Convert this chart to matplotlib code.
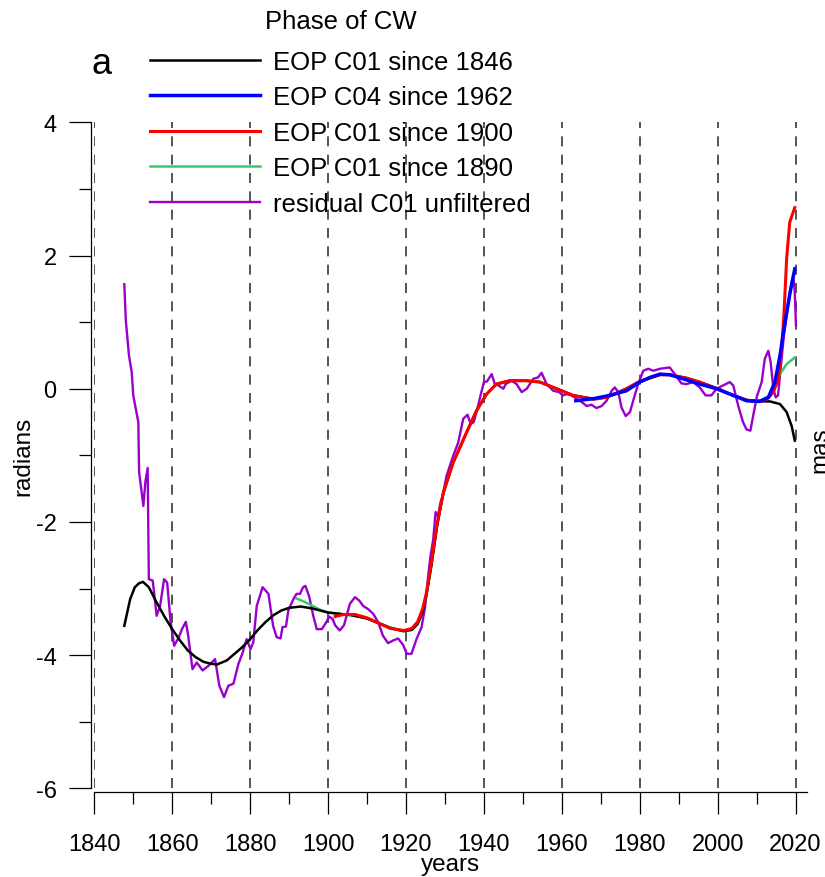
import numpy as np
import matplotlib
matplotlib.use("Agg")
import matplotlib.pyplot as plt
from matplotlib.ticker import MultipleLocator

plt.rcParams['font.family'] = ['Liberation Sans', 'DejaVu Sans']
plt.rcParams['axes.unicode_minus'] = False
plt.rcParams['lines.scale_dashes'] = False

# EOP C01 since 1846 (black)
yr_c01_1846 = [1847.7, 1849.2, 1850.4, 1851.5, 1852.5, 1854.0, 1856.0, 1858.0, 1860.0,
               1862.0, 1864.0, 1866.0, 1868.0, 1870.0, 1871.5, 1874.0, 1876.0, 1878.0,
               1880.0, 1882.0, 1884.0, 1886.0, 1888.0, 1890.0, 1893.0, 1896.0, 1900.0,
               1903.0, 1906.0, 1910.0, 1913.0, 1916.0, 1919.3, 1921.5, 1923.0, 1924.3,
               1925.3, 1926.5, 1928.0, 1929.6, 1932.1, 1935.6, 1938.1, 1940.7, 1943.2,
               1946.6, 1950.9, 1954.4, 1958.7, 1962.9, 1968.0, 1971.5, 1976.6, 1980.0,
               1985.2, 1987.7, 1992.0, 1995.4, 2000.0, 2004.0, 2007.5, 2010.8, 2013.4,
               2016.0, 2017.7, 2019.0, 2019.8]
ph_c01_1846 = [-3.56, -3.16, -2.98, -2.92, -2.90, -2.98, -3.21, -3.42, -3.61,
               -3.78, -3.93, -4.03, -4.10, -4.13, -4.14, -4.08, -3.98, -3.88,
               -3.76, -3.62, -3.50, -3.40, -3.33, -3.29, -3.27, -3.30, -3.36,
               -3.38, -3.40, -3.45, -3.52, -3.59, -3.64, -3.62, -3.53, -3.35,
               -3.08, -2.66, -2.05, -1.56, -1.11, -0.65, -0.33, -0.08, 0.07,
               0.12, 0.12, 0.10, 0.00, -0.10, -0.15, -0.13, 0.00, 0.11,
               0.21, 0.21, 0.16, 0.10, 0.00, -0.10, -0.17, -0.19, -0.19,
               -0.23, -0.35, -0.56, -0.78]

# EOP C04 since 1962 (blue)
yr_c04 = [1963.6, 1968.0, 1972.3, 1976.6, 1980.0, 1982.6, 1985.2, 1987.7, 1991.1,
          1995.4, 1999.7, 2004.0, 2007.4, 2010.8, 2013.0, 2014.7, 2016.0, 2017.3,
          2018.6, 2019.8]
ph_c04 = [-0.18, -0.15, -0.10, -0.03, 0.10, 0.17, 0.22, 0.21, 0.15,
          0.07, 0.00, -0.10, -0.18, -0.19, -0.13, 0.10, 0.50, 1.00,
          1.45, 1.80]

# EOP C01 since 1900 (red)
yr_c01_1900 = [1901.8, 1904.0, 1907.0, 1910.0, 1913.0, 1916.0, 1919.5, 1921.5, 1923.0,
               1924.3, 1925.3, 1926.5, 1928.0, 1929.6, 1932.1, 1935.6, 1938.1, 1940.7,
               1943.2, 1946.6, 1950.9, 1954.4, 1958.7, 1962.9, 1968.0, 1971.5, 1976.6,
               1980.0, 1985.2, 1987.7, 1992.0, 1995.4, 2000.0, 2004.0, 2007.5, 2009.1,
               2011.7, 2013.0, 2014.3, 2015.6, 2016.4, 2017.0, 2017.5, 2017.7, 2018.5,
               2019.2, 2019.8]
ph_c01_1900 = [-3.42, -3.39, -3.39, -3.44, -3.52, -3.60, -3.63, -3.60, -3.50,
               -3.30, -3.05, -2.62, -2.02, -1.56, -1.11, -0.65, -0.33, -0.08,
               0.07, 0.12, 0.12, 0.10, 0.00, -0.10, -0.16, -0.13, 0.00,
               0.11, 0.21, 0.21, 0.16, 0.10, 0.00, -0.10, -0.17, -0.19,
               -0.18, -0.14, -0.05, 0.15, 0.60, 1.10, 1.70, 1.95, 2.50,
               2.62, 2.72]

# EOP C01 since 1890 (green)
yr_c01_1890 = [1891.9, 1894.0, 1896.0, 1898.0, 1900.0, 1903.0, 1906.0, 1910.0, 1913.0,
               1916.0, 1919.3, 1921.5, 1923.0, 1924.3, 1925.3, 1926.5, 1928.0, 1929.6,
               1932.1, 1935.6, 1938.1, 1940.7, 1943.2, 1946.6, 1950.9, 1954.4, 1958.7,
               1962.9, 1968.0, 1971.5, 1976.6, 1980.0, 1985.2, 1987.7, 1992.0, 1995.4,
               2000.0, 2004.0, 2007.5, 2010.8, 2013.0, 2014.3, 2016.0, 2017.7, 2019.8]
ph_c01_1890 = [-3.15, -3.20, -3.26, -3.32, -3.36, -3.38, -3.40, -3.45, -3.52,
               -3.59, -3.64, -3.62, -3.53, -3.35, -3.08, -2.66, -2.05, -1.56,
               -1.11, -0.65, -0.33, -0.08, 0.07, 0.12, 0.12, 0.10, 0.00,
               -0.10, -0.15, -0.13, 0.00, 0.11, 0.21, 0.21, 0.16, 0.10,
               0.00, -0.10, -0.17, -0.18, -0.12, 0.00, 0.22, 0.37, 0.47]

# residual C01 unfiltered (purple)
yr_resid = [1847.7, 1848.1, 1848.9, 1849.6, 1850.0, 1850.9, 1851.3, 1851.5, 1852.6,
            1853.1, 1853.7, 1854.0, 1855.0, 1856.0, 1856.9, 1857.9, 1858.7, 1859.6,
            1860.5, 1861.7, 1862.5, 1863.5, 1864.1, 1865.2, 1866.3, 1867.8, 1869.3,
            1871.0, 1872.1, 1873.3, 1874.4, 1875.7, 1877.0, 1878.1, 1879.1, 1880.1,
            1880.8, 1881.7, 1883.2, 1884.7, 1885.9, 1886.8, 1887.8, 1888.3, 1889.2,
            1889.8, 1891.1, 1891.9, 1892.8, 1893.6, 1894.2, 1895.2, 1896.2, 1897.1,
            1898.4, 1899.5, 1900.3, 1901.2, 1901.8, 1903.0, 1904.1, 1905.6, 1906.9,
            1908.0, 1909.0, 1910.3, 1911.6, 1912.9, 1914.1, 1915.4, 1916.7, 1918.0,
            1919.3, 1920.2, 1921.4, 1922.7, 1924.0, 1924.9, 1925.7, 1926.3, 1927.0,
            1927.6, 1928.2, 1928.8, 1929.4, 1930.4, 1932.1, 1933.4, 1934.7, 1935.8,
            1936.6, 1937.4, 1938.5, 1939.1, 1940.0, 1940.8, 1942.0, 1942.8, 1943.7,
            1945.0, 1945.6, 1947.1, 1948.4, 1949.7, 1951.0, 1952.7, 1953.9, 1954.8,
            1956.1, 1957.8, 1959.3, 1960.3, 1961.2, 1962.5, 1963.8, 1965.1, 1966.4,
            1967.6, 1968.9, 1970.2, 1971.5, 1972.8, 1973.6, 1974.5, 1975.3, 1976.4,
            1977.5, 1978.7, 1979.6, 1980.9, 1982.2, 1983.5, 1985.2, 1987.7, 1989.0,
            1990.7, 1992.0, 1993.7, 1995.4, 1996.9, 1998.4, 1999.7, 2001.4, 2003.1,
            2004.0, 2005.3, 2006.5, 2007.4, 2008.4, 2009.1, 2010.1, 2011.3, 2012.1,
            2013.0, 2013.6, 2014.3, 2014.9, 2015.5, 2016.0, 2017.0, 2018.1, 2019.0,
            2019.4, 2019.8, 2020.1]
ph_resid = [1.57, 1.02, 0.50, 0.25, -0.10, -0.38, -0.50, -1.25, -1.76,
            -1.40, -1.19, -2.86, -2.88, -3.41, -3.26, -2.86, -2.91, -3.51,
            -3.86, -3.73, -3.61, -3.50, -3.71, -4.21, -4.11, -4.23, -4.16,
            -4.06, -4.46, -4.63, -4.46, -4.43, -4.13, -3.96, -3.76, -3.91,
            -3.81, -3.26, -2.98, -3.08, -3.56, -3.73, -3.75, -3.58, -3.57,
            -3.33, -3.16, -3.08, -3.08, -2.98, -2.96, -3.13, -3.41, -3.61,
            -3.61, -3.51, -3.42, -3.46, -3.55, -3.63, -3.55, -3.23, -3.13,
            -3.18, -3.26, -3.31, -3.38, -3.51, -3.71, -3.82, -3.78, -3.75,
            -3.85, -3.98, -3.98, -3.76, -3.58, -3.28, -2.81, -2.51, -2.26,
            -1.85, -1.92, -1.72, -1.61, -1.31, -1.01, -0.81, -0.45, -0.39,
            -0.53, -0.50, -0.26, -0.11, 0.10, 0.11, 0.22, 0.07, 0.05,
            0.00, 0.07, 0.12, 0.07, -0.05, 0.00, 0.15, 0.17, 0.24,
            0.07, -0.03, -0.05, -0.10, -0.08, -0.10, -0.15, -0.20, -0.26,
            -0.24, -0.29, -0.26, -0.18, -0.03, 0.02, -0.05, -0.28, -0.41,
            -0.35, -0.10, 0.07, 0.27, 0.30, 0.27, 0.30, 0.32, 0.22,
            0.08, 0.07, 0.10, 0.02, -0.10, -0.10, 0.00, 0.05, 0.10,
            0.05, -0.26, -0.50, -0.61, -0.63, -0.41, -0.11, 0.10, 0.45,
            0.57, 0.40, 0.00, -0.13, -0.10, 0.20, 0.80, 1.25, 1.60,
            1.70, 1.45, 0.95]

grid_years = [1840, 1860, 1880, 1900, 1920, 1940, 1960, 1980, 2000, 2020]

fig = plt.figure(figsize=(8.25, 8.78), dpi=100)
ax = fig.add_axes([0.1143, 0.1010, 0.8642, 0.7585])

for g in grid_years:
    ax.axvline(g, color='0.15', lw=1.1, dashes=(7.2, 6.0), zorder=1)

l_res, = ax.plot(yr_resid, ph_resid, color='#9900cc', lw=1.7, zorder=2)
l_90, = ax.plot(yr_c01_1890, ph_c01_1890, color='#33cc66', lw=1.8, zorder=3)
l_46, = ax.plot(yr_c01_1846, ph_c01_1846, color='black', lw=1.8, zorder=4)
l_00, = ax.plot(yr_c01_1900, ph_c01_1900, color='#ff0000', lw=2.2, zorder=5)
l_04, = ax.plot(yr_c04, ph_c04, color='#0000ff', lw=2.5, zorder=6)

ax.set_xlim(1840, 2023)
ax.set_ylim(-6, 4)
ax.xaxis.set_major_locator(MultipleLocator(20))
ax.xaxis.set_minor_locator(MultipleLocator(10))
ax.yaxis.set_major_locator(MultipleLocator(2))
ax.yaxis.set_minor_locator(MultipleLocator(1))

for s in ['top', 'right']:
    ax.spines[s].set_visible(False)
ax.spines['left'].set_position(('outward', 2.2))
ax.spines['bottom'].set_position(('outward', 2.5))
for s in ['left', 'bottom']:
    ax.spines[s].set_linewidth(0.9)

ax.tick_params(which='major', direction='out', length=15.5, width=0.9,
               labelsize=17, pad=9.4)
ax.tick_params(which='minor', direction='out', length=8.5, width=0.9)
ax.tick_params(axis='x', which='major', pad=14)

ax.set_xlabel('years', fontsize=17.5, va='baseline')
ax.xaxis.set_label_coords(0.5, (789.3 - 871) / 666.0)
ax.set_ylabel('radians', fontsize=17.5, va='baseline')
ax.yaxis.set_label_coords((29 - 94.3) / 713.0, 0.5)

fig.text(826 / 825, 1 - 450 / 878, 'mas', fontsize=17.5, rotation=90,
         rotation_mode='anchor', ha='center', va='baseline')
fig.text(102 / 825, 1 - 73.5 / 878, 'a', fontsize=26, ha='center', va='baseline')

leg = fig.legend([l_46, l_04, l_00, l_90, l_res],
                 ['EOP C01 since 1846', 'EOP C04 since 1962', 'EOP C01 since 1900',
                  'EOP C01 since 1890', 'residual C01 unfiltered'],
                 loc='upper left', bbox_to_anchor=(150 / 825, 1 - 10 / 878),
                 frameon=False, fontsize=18.5, title='Phase of CW', title_fontsize=18.5,
                 handlelength=4.3, handletextpad=0.49, labelspacing=0.45,
                 borderpad=0, borderaxespad=0)
# a bit more room between the title and the first entry
leg._legend_box.sep = 0.45 * 18.5 + 3.6

fig.savefig('out.png', dpi=100)
